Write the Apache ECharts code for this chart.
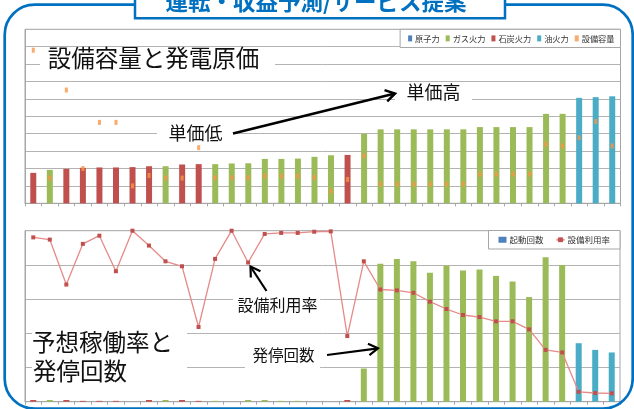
<!DOCTYPE html>
<html><head><meta charset="utf-8">
<script src="https://cdn.jsdelivr.net/npm/echarts@6/dist/echarts.min.js"></script>
<style>html,body{margin:0;padding:0;background:#fff}#c{width:634px;height:409px}</style>
</head><body><div id="c"></div>
<script>
// ---- data ----
const categories = ['1','2','3','4','5','6','7','8','9','10','11','12','13','14','15','16','17','18','19','20','21','22','23','24','25','26','27','28','29','30','31','32','33','34','35','36'];
const plantType = ['石炭火力','ガス火力','石炭火力','石炭火力','石炭火力','石炭火力','石炭火力','石炭火力','ガス火力','石炭火力','石炭火力','ガス火力','ガス火力','ガス火力','ガス火力','ガス火力','ガス火力','ガス火力','ガス火力','石炭火力','ガス火力','ガス火力','ガス火力','ガス火力','ガス火力','ガス火力','ガス火力','ガス火力','ガス火力','ガス火力','ガス火力','ガス火力','ガス火力','油火力','油火力','油火力'];
const typeNames = ['原子力','ガス火力','石炭火力','油火力'];
const unitCost = [1.75,1.92,1.98,2.04,2.06,2.06,2.08,2.13,2.13,2.23,2.25,2.25,2.29,2.30,2.55,2.55,2.57,2.67,2.76,2.78,4.00,4.25,4.25,4.25,4.25,4.25,4.25,4.38,4.38,4.38,4.38,5.14,5.14,6.06,6.10,6.15];
const capacity = [8.8,1.45,6.51,2.0,4.65,4.65,1.0,1.6,1.45,1.45,3.2,1.47,1.47,1.47,1.56,1.56,1.56,1.49,0.7,1.37,2.74,1.1,1.1,1.1,1.1,1.1,1.1,1.68,1.68,1.68,1.68,3.39,3.3,3.77,4.7,3.3];
const startCount = [1,1,1,0.5,0.5,0.5,0,1,1,1,0.5,0.5,0,1,1,0.5,0.5,0,0,1,19.4,80.6,83.5,82.1,75.4,79.6,76.7,77.3,73.6,70.3,61.2,84.5,80.0,34.2,30.3,28.8];
const utilization = [96.1,94.8,68.5,92.3,97.1,76.3,100,91.3,82.1,79.2,43.7,83.5,100,81.4,98.1,98.7,98.7,99.4,99.6,38.4,82.1,65.6,65.1,63.7,58.5,54.2,50.7,49.5,47.0,47.0,42.3,30.3,28.8,5.8,5.1,4.9];
const topTicks = [0,1,2,3,4,5,6,7,8,9,10];
const bottomTicks = [0,20,40,60,80,100];
const seriesNamesBottom = ['起動回数','設備利用率'];

// ---- styles ----
const typeColor = {'原子力':'#4F81BD','ガス火力':'#9BBB59','石炭火力':'#C0504D','油火力':'#4BACC6'};
const gridColor = '#b3b3b3';
const FONT = '"Noto Sans CJK JP", "Noto Sans", sans-serif';
const chart = echarts.init(document.getElementById('c'), null, {renderer:'canvas'});

function xAxisCfg(gridIndex){
  return {type:'category', gridIndex, data:categories, boundaryGap:true,
    axisLine:{show:true,lineStyle:{color:'#a6a6a6',width:1}},
    axisTick:{show:true,interval:0,length:3,lineStyle:{color:'#a6a6a6'}},
    axisLabel:{show:false}, splitLine:{show:false}};
}
function yAxisCfg(gridIndex, ticks){
  return {type:'value', gridIndex, min:ticks[0], max:ticks[ticks.length-1], interval:ticks[1]-ticks[0],
    axisLine:{show:true,lineStyle:{color:'#a6a6a6'}}, axisTick:{show:false}, axisLabel:{show:false},
    splitLine:{show:true,lineStyle:{color:gridColor,width:1}}};
}

const series = [];
typeNames.forEach(t=>{
  series.push({name:t, type:'bar', xAxisIndex:0, yAxisIndex:0, stack:'cost', barWidth:6,
    itemStyle:{color:typeColor[t]},
    data: unitCost.map((v,i)=> plantType[i]===t ? v : '-')});
});
series.push({name:'設備容量', type:'scatter', xAxisIndex:0, yAxisIndex:0, symbol:'rect', symbolSize:[3,5],
  itemStyle:{color:'#F79646'}, data:capacity, z:5});
series.push({name:seriesNamesBottom[0], type:'bar', xAxisIndex:1, yAxisIndex:1, barWidth:6,
  itemStyle:{color:'#4F81BD'},
  data:startCount.map((v,i)=>({value:v, itemStyle:{color:typeColor[plantType[i]]}}))});
series.push({name:seriesNamesBottom[1], type:'line', xAxisIndex:1, yAxisIndex:1, symbol:'rect', symbolSize:4,
  itemStyle:{color:'#C0504D'}, lineStyle:{color:'#E58A88',width:1.3}, data:utilization, z:5});

// ---- annotations ----
function arrow(x1,y1,x2,y2,w){
  const a = Math.atan2(y2-y1,x2-x1), L=11, s=0.55;
  const p1=[x2-L*Math.cos(a-s), y2-L*Math.sin(a-s)], p2=[x2-L*Math.cos(a+s), y2-L*Math.sin(a+s)];
  return [
    {type:'line', z:110, shape:{x1,y1,x2,y2}, style:{stroke:'#000',lineWidth:w}},
    {type:'polyline', z:110, shape:{points:[p1,[x2,y2],p2]}, style:{stroke:'#000',lineWidth:w,fill:null}}
  ];
}
function label(rect, text, cx, cy, size){
  return [
    {type:'rect', z:100, shape:rect, style:{fill:'#fff'}},
    {type:'text', z:101, style:{text, x:cx, y:cy, align:'center', verticalAlign:'middle', fill:'#111', font:`${size}px ${FONT}`}}
  ];
}
const graphics = [
  {type:'rect', z:90, shape:{x:4.7,y:4.7,width:628,height:404,r:30}, style:{fill:null,stroke:'#0070C0',lineWidth:2.7}},
  {type:'rect', z:95, shape:{x:135,y:-6,width:370,height:24.3}, style:{fill:'#fff',stroke:'#0070C0',lineWidth:2.5}},
  {type:'text', z:96, style:{text:'運転・収益予測/サービス提案', x:316, y:1, align:'center', verticalAlign:'middle', fill:'#0070C0', font:`bold 22.5px ${FONT}`}},
  ...label({x:40,y:47.5,width:235,height:22},'設備容量と発電原価',153.5,58.5,23.5),
  ...label({x:157,y:121,width:76,height:24},'単価低',195.5,133,18),
  ...label({x:395,y:84,width:77,height:22},'単価高',433.5,92.3,18),
  ...label({x:32,y:326,width:155,height:62},'予想稼働率と',102.5,342.5,23.5),
  {type:'text', z:101, style:{text:'発停回数', x:33, y:371, align:'left', verticalAlign:'middle', fill:'#111', font:`23.5px ${FONT}`}},
  ...label({x:233,y:290,width:87,height:24},'設備利用率',277.5,305,16),
  ...label({x:245,y:342,width:75,height:27},'発停回数',283.5,355,15.5),
  ...arrow(233,133.5,395,93.5,2.5),
  ...arrow(266.5,291,250.5,266.5,2.2),
  ...arrow(327,355,378,348.3,2.2)
];

chart.setOption({
  animation:false,
  textStyle:{fontFamily:FONT},
  grid:[
    {left:25,right:13.5,top:29.3,height:174,show:true,borderColor:'#a6a6a6',borderWidth:1,backgroundColor:'transparent'},
    {left:25,right:14,top:230.7,height:171,show:true,borderColor:'#a6a6a6',borderWidth:1,backgroundColor:'transparent'}
  ],
  legend:[
    {data:['原子力','ガス火力','石炭火力','油火力','設備容量'], right:13.5, top:29.3, orient:'horizontal',
     icon:'rect', itemWidth:4, itemHeight:6, itemGap:6, padding:[5,6,5,8],
     backgroundColor:'#fff', borderColor:'#a6a6a6', borderWidth:1, z:50,
     textStyle:{fontSize:8.2,color:'#333',fontFamily:FONT,padding:[0,0,0,-2]}},
    {data:[{name:'起動回数',icon:'rect'},{name:'設備利用率'}], right:14, top:230.5,
     itemWidth:8, itemHeight:6, itemGap:12, padding:[5,10,5,10],
     backgroundColor:'#fff', borderColor:'#a6a6a6', borderWidth:1, z:50,
     textStyle:{fontSize:8.5,color:'#333',fontFamily:FONT,padding:[0,0,0,-2]}}
  ],
  xAxis:[xAxisCfg(0), xAxisCfg(1)],
  yAxis:[yAxisCfg(0, topTicks), yAxisCfg(1, bottomTicks)],
  series,
  graphic:{elements:graphics}
});
</script></body></html>
